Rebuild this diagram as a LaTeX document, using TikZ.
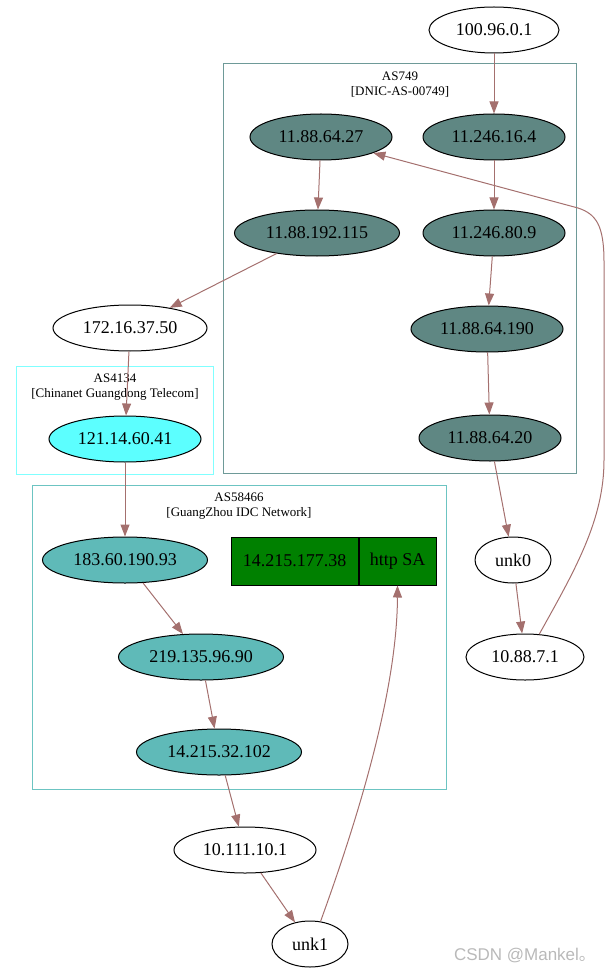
\documentclass[tikz,border=0pt]{standalone}
\usepackage{fontspec}
\setmainfont{Liberation Serif}
\newfontfamily\wmfont{Liberation Sans}
\newfontfamily\cjk{Noto Sans CJK SC}
\usetikzlibrary{shapes.geometric,arrows.meta}
\definecolor{edgecol}{HTML}{A4706E}
\definecolor{dnic}{HTML}{5F8783}
\definecolor{dnicline}{HTML}{6E9A98}
\definecolor{chinanet}{HTML}{5CFFFF}
\definecolor{chinanetline}{HTML}{80FFFF}
\definecolor{gzidc}{HTML}{5FBAB8}
\definecolor{gzidcline}{HTML}{6CC4C2}
\definecolor{sagreen}{HTML}{008000}

\begin{document}
\begin{tikzpicture}[x=1pt, y=-1pt, line width=1pt, font=\fontsize{18}{20}\selectfont,
	main/.style = {draw, ellipse, inner sep=0pt, minimum height=46pt},
	cllabel/.style = {font=\fontsize{13}{15}\selectfont, align=center},
	rec/.style = {draw, fill=sagreen, inner sep=0pt, minimum height=48pt},
	edge/.style = {draw=edgecol, -{Triangle[length=12pt, width=9pt]}}]
			\useasboundingbox (0,0) rectangle (611,976);
			
			% clusters
			\draw[dnicline] (223,64) rectangle (576,473);
			\node[cllabel] (l749) at (400,85) {AS749\\{}[DNIC-AS-00749]};
			\draw[chinanetline] (16,366) rectangle (213,474);
			\node[cllabel] (l4134) at (115,387) {AS4134\\{}[Chinanet Guangdong Telecom]};
			\draw[gzidcline] (32,485) rectangle (446,789);
			\node[cllabel] (l58466) at (239,506) {AS58466\\{}[GuangZhou IDC Network]};
			
			\node[main, minimum width=130pt] (top) at (494,30) {100.96.0.1};
			
			\node[main, fill=dnic, minimum width=142pt] (a27) at (321,137) {11.88.64.27};
			\node[main, fill=dnic, minimum width=142pt] (a164) at (494,137) {11.246.16.4};
			\node[main, fill=dnic, minimum width=165pt] (a115) at (317,233) {11.88.192.115};
			\node[main, fill=dnic, minimum width=142pt] (a809) at (494,233) {11.246.80.9};
			\node[main, fill=dnic, minimum width=152pt] (a190) at (487,329) {11.88.64.190};
			\node[main, fill=dnic, minimum width=142pt] (a20) at (490,438) {11.88.64.20};
			
			\node[main, minimum width=154pt] (b50) at (130,328) {172.16.37.50};
			\node[main, fill=chinanet, minimum width=152pt] (c41) at (125,439) {121.14.60.41};
			
			\node[main, fill=gzidc, minimum width=165pt] (d93) at (125,560) {183.60.190.93};
			\node[main, fill=gzidc, minimum width=165pt] (d90) at (201,657) {219.135.96.90};
			\node[main, fill=gzidc, minimum width=165pt] (d102) at (219,752) {14.215.32.102};
			\node[rec, minimum width=127pt] (rec) at (294.5,561) {14.215.177.38};
			\node[rec, minimum width=77pt, anchor=west] (rsa) at (rec.east) {http SA};
			
			\node[main, minimum width=76pt] (unk0) at (513,560) {unk0};
			\node[main, minimum width=118pt] (r71) at (525,657) {10.88.7.1};
			\node[main, minimum width=142pt] (e101) at (245,850) {10.111.10.1};
			\node[main, minimum width=76pt] (unk1) at (310,944) {unk1};
			
			\draw[edge] (top) -- (a164);
			\draw[edge] (a164) -- (a809);
			\draw[edge] (a809) -- (a190);
			\draw[edge] (a190) -- (a20);
			\draw[edge] (a20) -- (unk0);
			\draw[edge] (unk0) -- (r71);
			\draw[edge] (r71.58) .. controls (575,570) and (604,520) .. (604,460) -- (604,262)
				.. controls (604,225) and (596,214) .. (578,208) -- (a27.-17);
			\draw[edge] (a27) -- (a115);
			\draw[edge] (a115) -- (b50);
			\draw[edge] (b50) -- (c41);
			\draw[edge] (c41) -- (d93);
			\draw[edge] (d93) -- (d90);
			\draw[edge] (d90) -- (d102);
			\draw[edge] (d102) -- (e101);
			\draw[edge] (e101) -- (unk1);
			\draw[edge] (unk1.65) .. controls (350,840) and (397,700) .. (rsa.south);
			
			\node[font=\fontsize{17}{19}\selectfont, text=gray!55] (wm) at (525,956) {\wmfont CSDN @Mankel\cjk 。};
			
		\end{tikzpicture}
\end{document}
